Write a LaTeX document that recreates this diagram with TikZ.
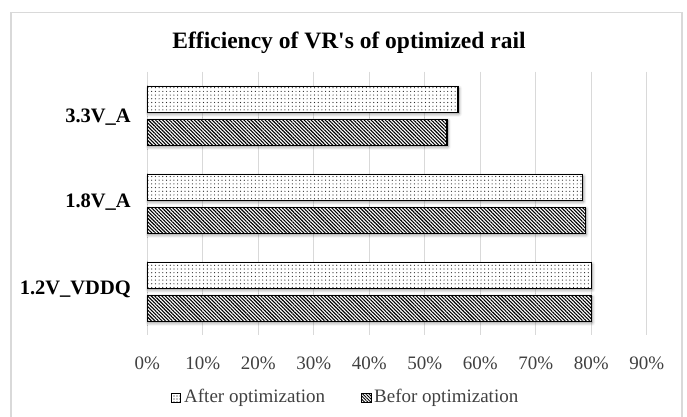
\documentclass[tikz,border=0pt]{standalone}
\usepackage{fontspec}
\setmainfont{Liberation Serif}
\usetikzlibrary{patterns.meta,shadows.blur}
\definecolor{gridgray}{HTML}{D9D9D9}
\definecolor{framegray}{HTML}{D9D9D9}
\definecolor{axtext}{HTML}{404040}
\tikzset{
  gridline/.style={draw=gridgray, line width=1pt},
  barshadow/.style={blur shadow={shadow xshift=1pt, shadow yshift=-1.5pt, shadow blur radius=3pt, shadow blur steps=6, shadow opacity=45}},
  afterbar/.style={barshadow, preaction={fill=white}, pattern={Dots[distance=3.7pt, radius=0.6pt]}, pattern color=black!85, draw=black, line width=1.4pt},
  beforebar/.style={barshadow, preaction={fill=white}, pattern={Lines[angle=-45, distance=2.5pt, line width=1.1pt]}, pattern color=black, draw=black, line width=1.4pt},
  catlabel/.style={anchor=east, inner sep=0pt, font=\fontsize{20.5}{20.5}\selectfont\bfseries},
  ticklabel/.style={anchor=center, inner sep=0pt, text=axtext, font=\fontsize{19}{19}\selectfont},
  legtext/.style={anchor=west, inner sep=0pt, text=axtext, font=\fontsize{19}{19}\selectfont},
  titletext/.style={inner sep=0pt, font=\fontsize{23.5}{23.5}\selectfont\bfseries},
}
\begin{document}
\begin{tikzpicture}[x=1pt, y=-1pt]
\useasboundingbox (0,0) rectangle (687,417);
% chart frame
\draw[framegray, line width=1.2pt] (11,430) -- (11,12.3) -- (682,12.3) -- (682,430);
% title
\node[titletext] (title) at (349,43) {Efficiency of VR\textquotesingle s of optimized rail};
% gridlines and tick labels
\foreach \k in {0,...,9}{
  \pgfmathsetmacro{\gx}{147.3+55.5*\k}
  \pgfmathtruncatemacro{\pv}{10*\k}
  \draw[gridline] (\gx,71.7) -- (\gx,335);
  \node[ticklabel] (tick\k) at (\gx,363) {\pv\%};
}
% bars: x(p) = 147.3 + 5.55 p
% 3.3V_A
\path[afterbar]  (147.3,86.7)  rectangle ({147.3+5.55*56},112.4);
\path[beforebar] (147.3,119.3) rectangle ({147.3+5.55*54},145.4);
% 1.8V_A
\path[afterbar]  (147.3,174.7) rectangle ({147.3+5.55*78.4},200.4);
\path[beforebar] (147.3,207.3) rectangle ({147.3+5.55*78.9},233.4);
% 1.2V_VDDQ
\path[afterbar]  (147.3,262.7) rectangle ({147.3+5.55*80},288.4);
\path[beforebar] (147.3,295.3) rectangle ({147.3+5.55*80},321.4);
% category labels
\node[catlabel] (c1) at (131,117) {3.3V\_A};
\node[catlabel] (c2) at (131,202) {1.8V\_A};
\node[catlabel] (c3) at (131,289) {1.2V\_VDDQ};
% legend
\path[pattern={Dots[distance=3pt, radius=0.6pt]}, pattern color=black, preaction={fill=white}, draw=black, line width=0.8pt] (171,393) rectangle (180.5,402.5);
\node[legtext] (l1) at (184,398) {After optimization};
\path[pattern={Lines[angle=-45, distance=2.2pt, line width=0.9pt]}, pattern color=black, preaction={fill=white}, draw=black, line width=0.8pt] (361.5,393) rectangle (371,402.5);
\node[legtext] (l2) at (374,398) {Befor optimization};
\end{tikzpicture}
\end{document}
